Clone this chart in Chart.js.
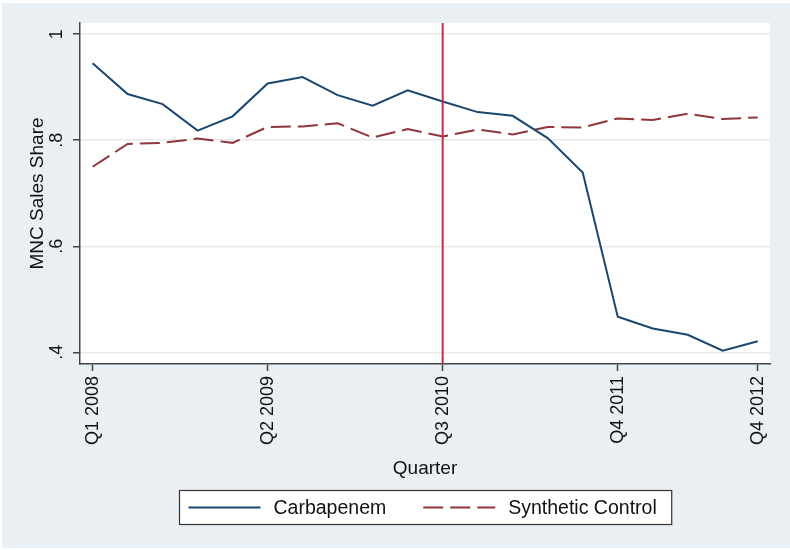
<!DOCTYPE html>
<html>
<head>
<meta charset="utf-8">
<script src="https://cdn.jsdelivr.net/npm/chart.js@4/dist/chart.umd.min.js"></script>
<style>
  html, body { margin: 0; padding: 0; background: #ffffff; }
  canvas { display: block; }
</style>
</head>
<body>
<canvas id="chart" width="790" height="550"></canvas>
<script>
// Quarterly MNC sales share: carbapenem vs. its synthetic control
const QUARTERS = [
  'Q1 2008', 'Q2 2008', 'Q3 2008', 'Q4 2008',
  'Q1 2009', 'Q2 2009', 'Q3 2009', 'Q4 2009',
  'Q1 2010', 'Q2 2010', 'Q3 2010', 'Q4 2010',
  'Q1 2011', 'Q2 2011', 'Q3 2011', 'Q4 2011',
  'Q1 2012', 'Q2 2012', 'Q3 2012', 'Q4 2012'
];
const CARBAPENEM = [
  0.945, 0.887, 0.868, 0.818, 0.845, 0.907, 0.919, 0.885, 0.865, 0.894,
  0.873, 0.853, 0.846, 0.804, 0.739, 0.467, 0.445, 0.433, 0.403, 0.421
];
const SYNTHETIC_CONTROL = [
  0.750, 0.793, 0.795, 0.803, 0.795, 0.825, 0.826, 0.832, 0.805, 0.821,
  0.807, 0.820, 0.811, 0.825, 0.824, 0.841, 0.838, 0.850, 0.840, 0.843
];
const SERIES_NAMES = ['Carbapenem', 'Synthetic Control'];
const X_TICKS = [0, 5, 10, 15, 19];            // indexes into QUARTERS
const Y_TICKS = [0.4, 0.6, 0.8, 1];
const Y_TICK_LABELS = ['.4', '.6', '.8', '1'];
const TREATMENT_QUARTER = 10;                   // Q3 2010
const X_MIN = -0.36, X_MAX = 19.35;
const Y_MIN = 0.378, Y_MAX = 1.021;

const FONT = '"Liberation Sans", Arial, sans-serif';
const NAVY = '#1a476f';
const MAROON = '#90353b';
const CRIMSON = '#c8284b';
const BG = '#e9eff3';

const toPoints = arr => arr.map((v, i) => ({ x: i, y: v }));

// Light outer panel with a white plot region
const backdrop = {
  id: 'backdrop',
  beforeDraw(chart) {
    const { ctx, chartArea: a } = chart;
    ctx.save();
    ctx.fillStyle = BG;
    ctx.fillRect(2, 3, chart.width - 2, chart.height - 5);
    ctx.fillStyle = '#ffffff';
    ctx.fillRect(a.left, a.top, a.right - a.left, a.bottom - a.top);
    ctx.restore();
  }
};

// Boxed legend below the axis title, entries side by side
const boxedLegend = {
  id: 'boxedLegend',
  afterDraw(chart) {
    const { ctx, chartArea: a } = chart;
    const sets = chart.data.datasets.filter(d => SERIES_NAMES.includes(d.label));
    ctx.save();
    ctx.font = '19.5px ' + FONT;
    const padL = 9, sample = 72, gapText = 13, gapEntry = 37, padR = 15;
    const widths = sets.map(d => ctx.measureText(d.label).width);
    let total = padL + padR;
    sets.forEach((d, i) => {
      total += sample + gapText + widths[i] + (i < sets.length - 1 ? gapEntry : 0);
    });
    const cx = (a.left + a.right) / 2;
    const left = Math.round(cx - total / 2) + 0.5;
    const top = 490.5, height = 34;
    ctx.fillStyle = '#ffffff';
    ctx.fillRect(left, top, total, height);
    ctx.strokeStyle = '#333333';
    ctx.lineWidth = 1.2;
    ctx.strokeRect(left, top, total, height);
    const midY = top + height / 2;
    let x = left + padL;
    sets.forEach((d, i) => {
      ctx.beginPath();
      ctx.setLineDash(d.borderDash || []);
      ctx.strokeStyle = d.borderColor;
      ctx.lineWidth = d.borderWidth;
      ctx.moveTo(x, midY);
      ctx.lineTo(x + sample, midY);
      ctx.stroke();
      ctx.setLineDash([]);
      x += sample + gapText;
      ctx.fillStyle = '#111111';
      ctx.textAlign = 'left';
      ctx.textBaseline = 'middle';
      ctx.fillText(d.label, x, midY + 1);
      x += widths[i] + gapEntry;
    });
    ctx.restore();
  }
};

new Chart(document.getElementById('chart'), {
  type: 'line',
  data: {
    datasets: [
      {
        label: 'Treatment',
        data: [{ x: TREATMENT_QUARTER, y: Y_MIN }, { x: TREATMENT_QUARTER, y: Y_MAX }],
        borderColor: CRIMSON,
        borderWidth: 2,
        pointRadius: 0
      },
      {
        label: SERIES_NAMES[0],
        data: toPoints(CARBAPENEM),
        borderColor: NAVY,
        borderWidth: 2,
        pointRadius: 0,
        tension: 0
      },
      {
        label: SERIES_NAMES[1],
        data: toPoints(SYNTHETIC_CONTROL),
        borderColor: MAROON,
        borderWidth: 2,
        borderDash: [20, 7],
        pointRadius: 0,
        tension: 0
      }
    ]
  },
  options: {
    responsive: false,
    animation: false,
    devicePixelRatio: 1,
    layout: { padding: { left: 0, top: 23, right: 20, bottom: 0 } },
    plugins: { legend: { display: false }, tooltip: { enabled: false } },
    scales: {
      x: {
        type: 'linear',
        min: X_MIN,
        max: X_MAX,
        afterBuildTicks: s => { s.ticks = X_TICKS.map(v => ({ value: v })); },
        afterFit: s => { s.height = 186; },
        grid: {
          drawOnChartArea: false,
          drawTicks: true,
          tickLength: 7,
          tickColor: '#444444',
          tickWidth: 1.5
        },
        border: { display: true, color: '#444444', width: 1.5 },
        ticks: {
          minRotation: 90,
          maxRotation: 90,
          padding: 5,
          color: '#111111',
          font: { family: FONT, size: 18 },
          callback: v => QUARTERS[v]
        },
        title: {
          display: true,
          text: 'Quarter',
          color: '#111111',
          font: { family: FONT, size: 19 },
          padding: { top: 0, bottom: 70 }
        }
      },
      y: {
        type: 'linear',
        min: Y_MIN,
        max: Y_MAX,
        afterBuildTicks: s => { s.ticks = Y_TICKS.map(v => ({ value: v })); },
        afterFit: s => { s.width = 80; },
        grid: {
          color: '#e8e8e8',
          lineWidth: 1.5,
          drawTicks: true,
          tickLength: 7,
          tickColor: '#444444',
          tickWidth: 1.5
        },
        border: { display: true, color: '#444444', width: 1.5 },
        ticks: {
          minRotation: 90,
          maxRotation: 90,
          crossAlign: 'center',
          padding: 8,
          color: '#111111',
          font: { family: FONT, size: 18 },
          callback: v => Y_TICK_LABELS[Y_TICKS.indexOf(v)]
        },
        title: {
          display: true,
          text: 'MNC Sales Share',
          color: '#111111',
          font: { family: FONT, size: 19 },
          padding: { top: 26, bottom: 0 }
        }
      }
    }
  },
  plugins: [backdrop, boxedLegend]
});
</script>
</body>
</html>
